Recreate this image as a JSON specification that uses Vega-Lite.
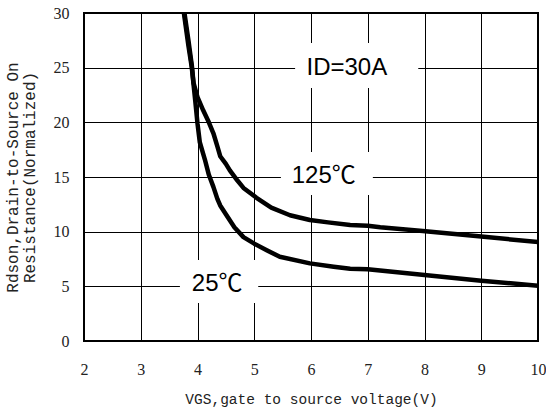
{
  "$schema": "https://vega.github.io/schema/vega-lite/v6.json",
  "width": 454,
  "height": 328,
  "autosize": {"type": "none"},
  "padding": {"left": 84, "top": 13, "right": 8, "bottom": 74},
  "background": "white",
  "config": {
    "view": {"stroke": "black", "strokeWidth": 2},
    "axis": {
      "grid": true,
      "gridColor": "black",
      "gridWidth": 1,
      "gridOpacity": 1,
      "domain": false,
      "ticks": false,
      "labelFont": "Liberation Serif",
      "labelFontSize": 16,
      "labelColor": "#222",
      "labelFlush": false,
      "labelOverlap": false,
      "titleFont": "Liberation Mono",
      "titleFontWeight": "normal",
      "titleColor": "#222",
      "zindex": 0
    },
    "axisX": {"labelPadding": 20, "titlePadding": 15, "titleFontSize": 14.5},
    "axisY": {"labelPadding": 15, "titlePadding": 16, "titleFontSize": 16, "titleLineHeight": 17}
  },
  "datasets": {
    "boxes": [
      {"vgs": 5.72, "vgs2": 7.89, "rds": 27.26, "rds2": 23.15},
      {"vgs": 5.47, "vgs2": 7.09, "rds": 17.29, "rds2": 13.36},
      {"vgs": 3.69, "vgs2": 5.07, "rds": 7.41, "rds2": 3.48}
    ],
    "curves": [
      {"curve": "125", "vgs": 3.77, "rds": 30},
      {"curve": "125", "vgs": 3.84, "rds": 27.5},
      {"curve": "125", "vgs": 3.9, "rds": 25.2},
      {"curve": "125", "vgs": 3.93, "rds": 23.6},
      {"curve": "125", "vgs": 4.0, "rds": 22.3},
      {"curve": "125", "vgs": 4.1, "rds": 21.1},
      {"curve": "125", "vgs": 4.2, "rds": 20.0},
      {"curve": "125", "vgs": 4.28, "rds": 19.0},
      {"curve": "125", "vgs": 4.35, "rds": 17.8},
      {"curve": "125", "vgs": 4.4, "rds": 16.9},
      {"curve": "125", "vgs": 4.5, "rds": 16.2},
      {"curve": "125", "vgs": 4.57, "rds": 15.6},
      {"curve": "125", "vgs": 4.7, "rds": 14.7},
      {"curve": "125", "vgs": 4.81, "rds": 14.0},
      {"curve": "125", "vgs": 5.04, "rds": 13.1},
      {"curve": "125", "vgs": 5.3, "rds": 12.2},
      {"curve": "125", "vgs": 5.63, "rds": 11.5},
      {"curve": "125", "vgs": 5.98, "rds": 11.07},
      {"curve": "125", "vgs": 6.3, "rds": 10.85},
      {"curve": "125", "vgs": 6.69, "rds": 10.6},
      {"curve": "125", "vgs": 7.0, "rds": 10.55},
      {"curve": "125", "vgs": 7.22, "rds": 10.4},
      {"curve": "125", "vgs": 7.97, "rds": 10.06},
      {"curve": "125", "vgs": 9.0, "rds": 9.55},
      {"curve": "125", "vgs": 10.0, "rds": 9.05},
      {"curve": "25", "vgs": 3.76, "rds": 30},
      {"curve": "25", "vgs": 3.84, "rds": 27},
      {"curve": "25", "vgs": 3.9, "rds": 25},
      {"curve": "25", "vgs": 3.96, "rds": 22},
      {"curve": "25", "vgs": 4.0, "rds": 19.9},
      {"curve": "25", "vgs": 4.04, "rds": 18.2},
      {"curve": "25", "vgs": 4.13, "rds": 16.6},
      {"curve": "25", "vgs": 4.2, "rds": 15.2},
      {"curve": "25", "vgs": 4.28, "rds": 14.1},
      {"curve": "25", "vgs": 4.35, "rds": 13.0},
      {"curve": "25", "vgs": 4.4, "rds": 12.4},
      {"curve": "25", "vgs": 4.5, "rds": 11.6},
      {"curve": "25", "vgs": 4.65, "rds": 10.4},
      {"curve": "25", "vgs": 4.81, "rds": 9.5},
      {"curve": "25", "vgs": 5.0, "rds": 8.9},
      {"curve": "25", "vgs": 5.22, "rds": 8.3},
      {"curve": "25", "vgs": 5.45, "rds": 7.7},
      {"curve": "25", "vgs": 5.98, "rds": 7.1},
      {"curve": "25", "vgs": 6.4, "rds": 6.8},
      {"curve": "25", "vgs": 6.69, "rds": 6.6},
      {"curve": "25", "vgs": 7.0, "rds": 6.56},
      {"curve": "25", "vgs": 8.0, "rds": 6.04},
      {"curve": "25", "vgs": 9.0, "rds": 5.52},
      {"curve": "25", "vgs": 10.0, "rds": 5.06}
    ],
    "labels": [
      {"label": "ID=30A", "vgs": 5.92, "rds": 24.98},
      {"label": "125℃", "vgs": 5.66, "rds": 15.1},
      {"label": "25℃", "vgs": 3.9, "rds": 5.21}
    ]
  },
  "encoding": {
    "x": {"field": "vgs", "type": "quantitative", "title": "VGS,gate to source voltage(V)", "scale": {"domain": [2, 10], "nice": false, "zero": false}, "axis": {"values": [2, 3, 4, 5, 6, 7, 8, 9, 10], "format": "d"}},
    "y": {"field": "rds", "type": "quantitative", "title": ["Rdson,Drain-to-Source On", "Resistance(Normalized)"], "scale": {"domain": [0, 30], "nice": false}, "axis": {"values": [0, 5, 10, 15, 20, 25, 30], "format": "d"}}
  },
  "layer": [
    {
      "data": {"name": "boxes"},
      "mark": {"type": "rect", "fill": "white", "stroke": null},
      "encoding": {"x2": {"field": "vgs2"}, "y2": {"field": "rds2"}}
    },
    {
      "data": {"name": "curves"},
      "mark": {"type": "line", "stroke": "black", "strokeWidth": 4.5, "clip": true, "strokeJoin": "round"},
      "encoding": {"detail": {"field": "curve"}}
    },
    {
      "data": {"name": "labels"},
      "mark": {"type": "text", "align": "left", "baseline": "middle", "font": "Liberation Sans, Noto Sans CJK SC", "fontSize": 24, "color": "black"},
      "encoding": {"text": {"field": "label"}}
    }
  ]
}
